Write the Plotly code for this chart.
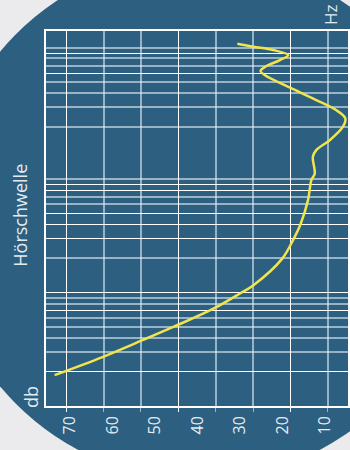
import plotly.graph_objects as go

# Hearing threshold curve: frequency (Hz) vs. sound level (dB)
freq_hz = [18.7, 27, 38, 50, 72, 98, 116, 199, 299, 400, 652, 977, 1120,
           1570, 1800, 2200, 2880, 3420, 4060, 4970, 6430, 8240, 8990, 9910,
           11190, 12390, 13710, 14660, 15560]
level_db = [73.1, 60.3, 49.6, 41.2, 30.6, 23.5, 19.9, 12.2, 9.1, 7.3, 5.3,
            4.4, 3.5, 4.0, 3.1, -0.5, -4.0, -4.7, -2.2, 3.1, 10.2, 16.8, 18.0,
            16.4, 12.8, 10.6, 14.6, 19.9, 24.2]

# Level grid (dB): strong and light lines
db_grid_major = [70, 40, 10]
db_grid_minor = [60, 50, 30, 20, 0]
db_tick_labels = [70, 60, 50, 40, 30, 20, 10]

# Frequency grid (Hz): strong and light lines
hz_grid_major = [20, 70, 100, 300, 400, 500, 800, 900, 8600, 12900]
hz_grid_minor = [30, 40, 50, 60, 80, 90, 200, 600, 700, 1000, 2900, 4300,
                 5700, 7100, 10000, 11600, 14300]

BLUE = "#2c5f80"
PAGE = "#ebebee"
TEXT = "#e4ebf0"
GRID_STRONG = "#ffffff"
GRID_LIGHT = "rgba(225,235,242,0.6)"
CURVE = "#f1e54c"

W, H = 350, 450
ML, MR, MT, MB = 46, 0, 31, 44
PW, PH = W - ML - MR, H - MT - MB


def px_x(px):
    return (px - ML) / PW


def px_y(py):
    return (H - MB - py) / PH


fig = go.Figure()

fig.add_trace(go.Scatter(
    x=level_db, y=freq_hz, mode="lines",
    line=dict(color=CURVE, width=2.5, shape="spline", smoothing=1.0),
    hoverinfo="skip", showlegend=False,
))

# Invisible trace so the label axis is active
fig.add_trace(go.Scatter(
    x=[db_tick_labels[0]], y=[freq_hz[0]], xaxis="x2", mode="markers",
    marker=dict(opacity=0), hoverinfo="skip", showlegend=False,
))

# Round blue backdrop
cx, cy, r = 200, 219, 261
fig.add_shape(type="circle", xref="paper", yref="paper",
              x0=px_x(cx - r), x1=px_x(cx + r), y0=px_y(cy + r), y1=px_y(cy - r),
              fillcolor=BLUE, line=dict(width=0), layer="below")

fig.update_layout(
    width=W, height=H,
    margin=dict(l=ML, r=MR, t=MT, b=MB),
    paper_bgcolor=PAGE, plot_bgcolor="rgba(0,0,0,0)",
    font=dict(family="Open Sans", color=TEXT),
    showlegend=False,
    xaxis=dict(
        range=[75.4, -5.4], tickmode="array", tickvals=db_grid_major,
        showticklabels=False, showgrid=True, gridcolor=GRID_STRONG, gridwidth=1,
        ticks="outside", ticklen=4, tickcolor=GRID_STRONG,
        minor=dict(tickmode="array", tickvals=db_grid_minor, showgrid=True,
                   gridcolor=GRID_LIGHT, gridwidth=1.5, ticks="outside",
                   ticklen=4, tickcolor=GRID_LIGHT),
        showline=True, linecolor=GRID_STRONG, linewidth=1.5, mirror=True,
        zeroline=False, fixedrange=True,
    ),
    xaxis2=dict(
        overlaying="x", anchor="y", side="bottom",
        range=[75.6, 4.62], tickmode="array", tickvals=db_tick_labels,
        ticktext=[str(v) for v in db_tick_labels], tickangle=-90,
        tickfont=dict(size=16, color=TEXT), ticks="", showgrid=False,
        showline=False, zeroline=False, ticklabelstandoff=6,
    ),
    yaxis=dict(
        type="log", range=[1.0, 4.305], tickmode="array", tickvals=hz_grid_major,
        showticklabels=False, showgrid=True, gridcolor=GRID_STRONG, gridwidth=1,
        ticks="",
        minor=dict(tickmode="array", tickvals=hz_grid_minor, showgrid=True,
                   gridcolor=GRID_LIGHT, gridwidth=1.5),
        showline=True, linecolor=GRID_STRONG, linewidth=1.5, mirror=True,
        zeroline=False, fixedrange=True,
    ),
    annotations=[
        dict(text="Hörschwelle", xref="paper", yref="paper",
             x=px_x(19.5), y=px_y(215), xanchor="center", yanchor="middle",
             textangle=-90, showarrow=False, font=dict(size=18, color=TEXT)),
        dict(text="db", xref="paper", yref="paper",
             x=px_x(31), y=px_y(397), xanchor="center", yanchor="middle",
             textangle=-90, showarrow=False, font=dict(size=18, color=TEXT)),
        dict(text="Hz", xref="paper", yref="paper",
             x=px_x(332), y=px_y(15), xanchor="center", yanchor="middle",
             textangle=-90, showarrow=False, font=dict(size=17, color=TEXT)),
    ],
)

fig.write_html("out.html")
